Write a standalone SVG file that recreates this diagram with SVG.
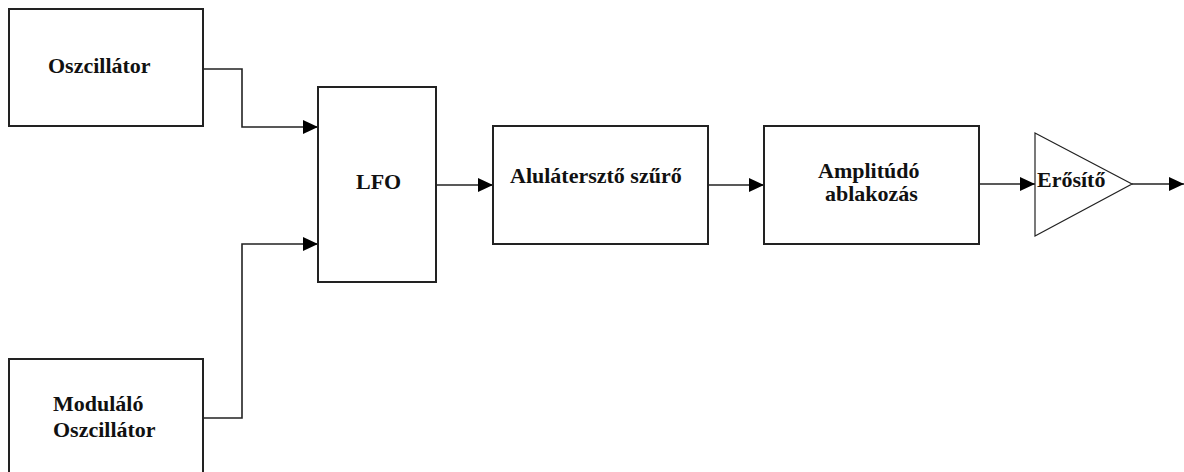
<svg xmlns="http://www.w3.org/2000/svg" width="1184" height="472" viewBox="0 0 1184 472">
<style>
.box{fill:#fff;stroke:#222;stroke-width:2}
.ln{fill:none;stroke:#222;stroke-width:1.6}
text{font-family:'Liberation Serif','Times New Roman','DejaVu Serif',serif;font-weight:bold;font-size:22px;fill:#111}
</style>
<defs>
<marker id="ah" markerWidth="15" markerHeight="14" refX="15" refY="7" orient="auto" markerUnits="userSpaceOnUse">
<path d="M0,0 L15,7 L0,14 Z" fill="#000"/>
</marker>
</defs>
<rect width="1184" height="472" fill="#fff"/>
<g id="connectors">
<path class="ln" d="M203,69 H242 V127 H318" marker-end="url(#ah)"/>
<path class="ln" d="M203,418 H242 V244 H318" marker-end="url(#ah)"/>
<path class="ln" d="M436,185 H493" marker-end="url(#ah)"/>
<path class="ln" d="M708,185 H764" marker-end="url(#ah)"/>
<path class="ln" d="M979,184 H1035" marker-end="url(#ah)"/>
<path class="ln" d="M1132,184 H1184" marker-end="url(#ah)"/>
</g>
<g id="oszcillator">
<rect class="box" x="9" y="9" width="194" height="117"/>
<text x="48" y="73" font-family="Liberation Serif, serif">Oszcillátor</text>
</g>
<g id="modulalo">
<rect class="box" x="9" y="359" width="194" height="120"/>
<text x="53" y="411" font-family="Liberation Serif, serif">Moduláló</text>
<text x="53" y="437" font-family="Liberation Serif, serif">Oszcillátor</text>
</g>
<g id="lfo">
<rect class="box" x="318" y="87" width="118" height="195"/>
<text x="356" y="189" font-family="Liberation Serif, serif">LFO</text>
</g>
<g id="alulatereszto">
<rect class="box" x="493" y="126" width="215" height="118"/>
<text x="510" y="183" font-family="Liberation Serif, serif">Alulátersztő szűrő</text>
</g>
<g id="amplitudo">
<rect class="box" x="764" y="126" width="215" height="118"/>
<text x="818" y="178" font-family="Liberation Serif, serif">Amplitúdó</text>
<text x="825" y="201" font-family="Liberation Serif, serif">ablakozás</text>
</g>
<g id="erosito">
<polygon points="1035,133 1132,184 1035,236" fill="#fff" stroke="#222" stroke-width="1.2"/>
<text x="1037" y="187" font-family="Liberation Serif, serif">Erősítő</text>
</g>
</svg>
